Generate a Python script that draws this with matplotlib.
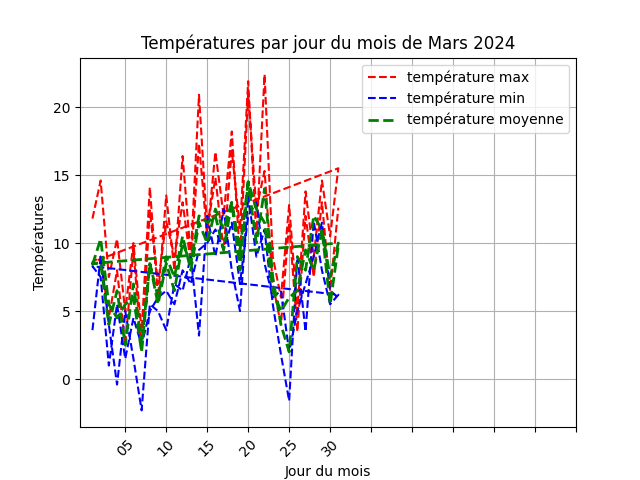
import matplotlib
matplotlib.use("Agg")
import matplotlib.pyplot as plt

# jours du mois (deux passes sur le mois, dans l'ordre des relevés)
days = list(range(1, 32))

temp_max_a = [11.8, 14.6, 7.5, 10.3, 5.0, 10.0, 3.5, 14.1, 6.0, 13.5, 8.0, 16.4, 9.0, 20.9, 11.0, 14.8,
              9.5, 16.8, 11.0, 21.9, 10.5, 22.4, 9.0, 6.0, 12.8, 5.0, 13.8, 9.0, 14.6, 10.5, 15.5]
temp_max_b = [8.6, 9.0, 4.5, 8.0, 2.5, 9.5, 2.0, 12.4, 7.0, 11.6, 9.0, 13.0, 8.5, 17.3, 10.5, 16.7,
              12.0, 18.2, 9.0, 21.0, 12.5, 15.3, 7.0, 4.0, 11.5, 3.5, 12.0, 7.5, 13.0, 6.5, 12.6]

temp_min_a = [3.6, 9.0, 4.0, -0.4, 5.0, 1.5, -2.3, 5.5, 5.0, 3.6, 7.0, 6.5, 9.0, 3.2, 12.0, 9.0,
              12.5, 8.0, 5.0, 13.5, 9.0, 11.0, 5.5, 1.8, -1.6, 9.0, 3.5, 11.6, 8.0, 5.5, 6.2]
temp_min_b = [8.3, 7.5, 1.0, 5.5, 1.5, 4.5, 2.5, 5.0, 6.0, 6.5, 5.5, 8.0, 7.0, 9.5, 10.0, 11.0,
              9.5, 11.5, 7.0, 12.0, 13.0, 8.5, 6.0, 6.5, 2.0, 5.0, 7.0, 9.0, 11.5, 6.5, 6.0]

temp_moy_a = [8.4, 10.3, 5.5, 4.5, 5.5, 6.0, 2.0, 8.5, 5.5, 8.5, 6.5, 10.0, 8.5, 12.0, 11.5, 12.0,
              9.5, 13.0, 8.0, 14.5, 10.0, 14.0, 7.5, 4.0, 2.0, 9.0, 8.0, 12.0, 11.0, 7.5, 10.0]
temp_moy_b = [8.5, 8.5, 4.0, 6.5, 2.5, 7.0, 2.5, 8.5, 6.0, 9.0, 7.5, 10.5, 8.0, 11.5, 10.0, 12.5,
              11.0, 13.0, 9.5, 14.5, 12.5, 11.5, 6.5, 5.0, 6.0, 6.5, 9.5, 8.0, 11.0, 5.5, 9.8]

tick_pos = list(range(5, 61, 5))
tick_labels = ['05', '10', '15', '20', '25', '30', '', '', '', '', '', '']

x = days + days
fig, ax = plt.subplots(figsize=(6.4, 4.8), dpi=100)
ax.plot(x, temp_max_a + temp_max_b, 'r--', label='température max')
ax.plot(x, temp_min_a + temp_min_b, 'b--', label='température min')
ax.plot(x, temp_moy_a + temp_moy_b, 'g--', linewidth=2, label='température moyenne')

ax.set_xticks(tick_pos)
ax.set_xticklabels(tick_labels, rotation=45)
ax.set_xlim(-0.52, 60)
ax.set_xlabel('Jour du mois')
ax.set_ylabel('Températures')
ax.set_title('Températures par jour du mois de Mars 2024')
ax.grid(True)
ax.legend()

plt.savefig('out.png')
